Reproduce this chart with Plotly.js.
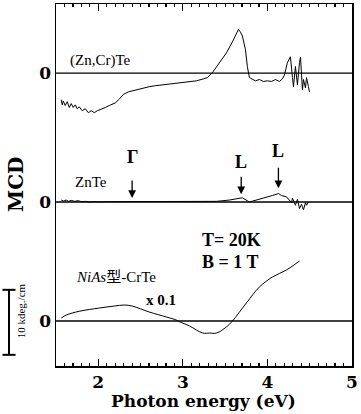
<!DOCTYPE html>
<html><head><meta charset="utf-8">
<script src="https://cdn.plot.ly/plotly-3.0.1.min.js"></script>
<style>html,body{margin:0;padding:0;background:#fff}#c{width:361px;height:414px}</style>
</head><body><div id="c"></div>
<script>
// Photon energy (eV) and MCD values (kdeg/cm scale units)
const znCrTeE = [1.562,1.574,1.586,1.609,1.633,1.657,1.680,1.704,1.728,1.751,1.775,1.811,1.846,1.882,1.917,1.953,1.988,2.036,2.083,2.130,2.201,2.249,2.296,2.355,2.438,2.521,2.604,2.675,2.781,2.876,2.970,3.065,3.160,3.243,3.290,3.349,3.432,3.515,3.586,3.633,3.657,3.681,3.704,3.740,3.763,3.787,3.822,3.858,3.905,3.953,4.000,4.047,4.095,4.142,4.177,4.201,4.236,4.272,4.296,4.308,4.331,4.355,4.379,4.391,4.414,4.426,4.450,4.462,4.485,4.497];
const znCrTeV = [-4.1,-4.9,-4.3,-5.0,-4.4,-5.3,-4.7,-5.3,-4.9,-5.5,-5.2,-5.8,-5.5,-6.1,-5.8,-6.1,-5.8,-5.6,-5.3,-5.0,-4.6,-4.0,-3.3,-2.9,-2.6,-2.3,-2.1,-1.95,-1.8,-1.65,-1.5,-1.35,-1.2,-0.9,-0.7,0.05,1.6,3.1,4.8,6.0,6.7,6.3,5.7,3.6,0.97,-0.7,-1.0,-1.2,-1.0,-1.3,-1.2,-1.3,-1.0,-1.3,-0.9,-0.3,1.6,2.5,-0.7,-2.1,1.0,-1.8,1.6,2.4,-2.6,-1.0,-2.3,-0.7,-2.1,-2.9];

const znTeE = [1.562,1.590,1.620,1.650,1.680,1.720,1.760,1.800,1.850,1.900,1.950,2.000,2.100,2.200,2.300,2.400,2.500,2.600,2.700,2.800,2.900,3.000,3.100,3.200,3.243,3.396,3.550,3.633,3.704,3.787,3.870,3.988,4.059,4.130,4.166,4.225,4.249,4.284,4.296,4.331,4.355,4.379,4.403,4.426,4.450,4.462,4.485];
const znTeV = [0.3,0.15,0.3,0.1,0.25,0.1,0.2,0.05,0.1,0.0,0.05,0.0,0.05,0.05,0.05,0.05,0.05,0.05,0.05,0.05,0.05,0.05,0.05,0.05,0.05,0.1,0.3,0.5,0.65,0.0,0.3,0.65,1.0,1.3,1.0,0.8,0.4,-0.1,0.57,-0.5,0.4,-1.0,-0.35,-1.2,-0.1,-0.5,0.0];

const crTeE = [1.562,1.621,1.775,2.012,2.189,2.308,2.402,2.604,2.805,2.923,2.959,3.080,3.234,3.314,3.399,3.514,3.586,3.751,3.905,4.059,4.225,4.379];
const crTeV = [0.46,0.92,1.5,2.0,2.3,2.46,2.3,1.38,0.62,0.15,-0.1,-0.77,-1.85,-1.85,-1.85,-0.92,0.0,2.77,5.23,6.77,7.85,9.23];

// vertical offsets of the three spectra
const offsets = {crTe: 0, znTe: 18.31, znCrTe: 38.15};
const xTickVals = [2,3,4,5];
const yTickText = ['0','0','0'];

const serif = '"Liberation Serif", "Times New Roman", "Noto Sans CJK JP", serif';
const wideSerif = '"DejaVu Serif", "Liberation Serif", serif';
const shift = (arr, o) => arr.map(v => v + o);

const traces = [
  {x: znCrTeE, y: shift(znCrTeV, offsets.znCrTe), mode:'lines', line:{color:'#000', width:1}},
  {x: znTeE, y: shift(znTeV, offsets.znTe), mode:'lines', line:{color:'#000', width:1}},
  {x: crTeE, y: shift(crTeV, offsets.crTe), mode:'lines', line:{color:'#000', width:1, shape:'spline'}},
  // invisible trace to carry the top axis ticks
  {x: [1.5, 5], y: [0, 0], xaxis:'x2', mode:'lines', line:{width:0}, hoverinfo:'skip', opacity:0}
];

const zeroLines = [offsets.crTe, offsets.znTe, offsets.znCrTe].map(o => ({
  type:'line', xref:'paper', x0:0, x1:1, yref:'y', y0:o, y1:o, line:{color:'#000', width:1.3}
}));
const bx = (9-56)/296;
const scaleBar = [
  {type:'line', xref:'paper', yref:'y', x0:bx, x1:bx, y0:-5.2, y1:4.8, line:{color:'#000', width:2}},
  {type:'line', xref:'paper', yref:'y', x0:bx-0.022, x1:bx+0.022, y0:4.8, y1:4.8, line:{color:'#000', width:2}},
  {type:'line', xref:'paper', yref:'y', x0:bx-0.022, x1:bx+0.022, y0:-5.2, y1:-5.2, line:{color:'#000', width:2}}
];

const txt = (x, y, text, size, extra) => Object.assign({x, y, xref:'x', yref:'y', text, showarrow:false,
  xanchor:'left', yanchor:'middle', font:{family:serif, size, color:'#000'}}, extra||{});
const arrow = (x, y, len) => ({x, y, xref:'x', yref:'y', text:'', showarrow:true, ax:0, ay:-len,
  arrowhead:2, arrowsize:1.2, arrowwidth:1.3, arrowcolor:'#000'});

const annotations = [
  txt(1.645, offsets.znCrTe + 2.0, '(Zn,Cr)Te', 15),
  txt(1.705, offsets.znTe + 3.1, 'ZnTe', 15),
  txt(1.716, offsets.crTe + 6.8, '<i>NiAs</i>型-CrTe', 15),
  txt(2.545, offsets.crTe + 3.2, '<b>x 0.1</b>', 15),
  txt(3.198, offsets.crTe + 12.5, '<b>T= 20K</b>', 18),
  txt(3.198, offsets.crTe + 9.1, '<b>B = 1 T</b>', 18),
  txt(2.4, offsets.znTe + 6.9, '<b>Γ</b>', 18, {xanchor:'center'}),
  txt(3.69, offsets.znTe + 6.1, '<b>L</b>', 18, {xanchor:'center'}),
  txt(4.13, offsets.znTe + 7.9, '<b>L</b>', 18, {xanchor:'center'}),
  arrow(2.4, offsets.znTe + 0.6, 19),
  arrow(3.69, offsets.znTe + 1.2, 19),
  arrow(4.13, offsets.znTe + 2.1, 22),
  {xref:'paper', yref:'paper', x:(203-56)/296, y:-(401-366)/362, text:'<b>Photon energy (eV)</b>', showarrow:false,
   xanchor:'center', yanchor:'middle', font:{family:wideSerif, size:17, color:'#000'}},
  {xref:'paper', yref:'paper', x:(16-56)/296, y:(366-185)/362, text:'<b>MCD</b>', textangle:-90, showarrow:false,
   xanchor:'center', yanchor:'middle', font:{family:wideSerif, size:20, color:'#000'}},
  {xref:'paper', yref:'y', x:(21-56)/296, y:offsets.crTe + 1.5, text:'10 kdeg./cm', textangle:-90, showarrow:false,
   xanchor:'center', yanchor:'middle', font:{family:serif, size:11, color:'#000'}}
];

const tickCommon = {ticks:'inside', ticklen:7, tickwidth:1.2, tickcolor:'#000',
  minor:{dtick:0.1, ticks:'inside', ticklen:3, tickcolor:'#000', tickwidth:1.2}};

const layout = {
  width:361, height:414,
  margin:{l:56, r:9, t:4, b:48},
  paper_bgcolor:'#fff', plot_bgcolor:'#fff',
  showlegend:false,
  xaxis:Object.assign({range:[1.5,5], tickvals:xTickVals, mirror:'ticks',
    showline:true, linecolor:'#000', linewidth:1.5, showgrid:false, zeroline:false,
    tickfont:{family:wideSerif, size:17, color:'#000', weight:'bold'}}, tickCommon),
  xaxis2:Object.assign({range:[1.5,5], tickvals:xTickVals, overlaying:'x', side:'top', anchor:'y',
    showticklabels:false, showline:true, linecolor:'#000', linewidth:1.5, showgrid:false, zeroline:false}, tickCommon),
  yaxis:{range:[-6.92,48.77], tickvals:[offsets.crTe, offsets.znTe, offsets.znCrTe], ticktext:yTickText,
    ticks:'', showline:true, linecolor:'#000', linewidth:1.5, mirror:true, showgrid:false, zeroline:false,
    tickfont:{family:wideSerif, size:17, color:'#000', weight:'bold'}},
  shapes: zeroLines.concat(scaleBar),
  annotations
};
Plotly.newPlot('c', traces, layout, {staticPlot:true});
</script>
</body></html>
